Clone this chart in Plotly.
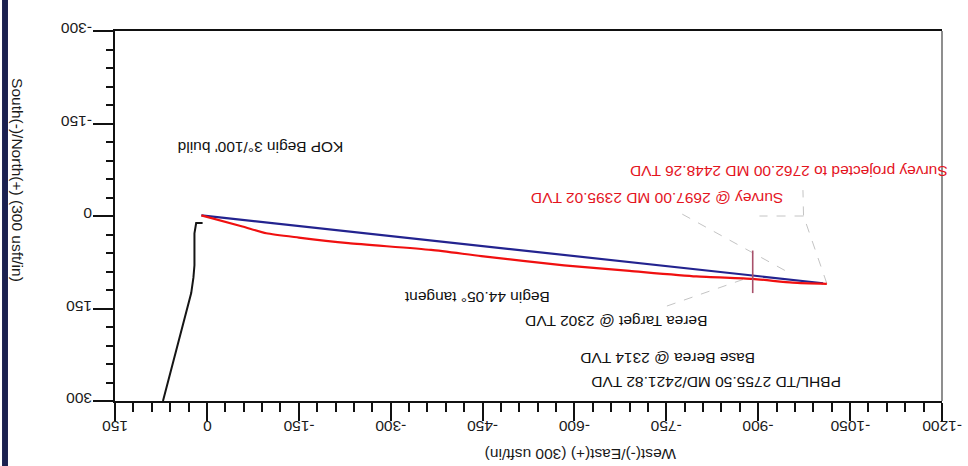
import plotly.graph_objects as go

# ---- data (West(-)/East(+), South(-)/North(+) in usft, as drawn) ----
plan_x = [9, -1006]
plan_y = [-1, 109]

survey_x = [9, -58, -97, -150, -231, -366, -448, -583, -690, -799, -891, -956, -1012]
survey_y = [-1, 17, 28, 35, 44, 55, 65, 80, 89, 98, 102, 108, 110]

offset_x = [7, 17.5, 20.3, 20.3, 22, 25.6, 71.7]
offset_y = [11.4, 11.4, 28, 80, 100, 125, 300]

marker_x = [-891, -891]
marker_y = [56, 125]

leader_a_x = [-1012, -974, -973]
leader_a_y = [109.5, 0, -42]
leader_b_x = [-974, -902]
leader_b_y = [0, 0]
leader_c_x = [-776, -954]
leader_c_y = [-3, 94]
leader_d_x = [-751, -875]
leader_d_y = [146, 103]

x_ticks = [150, 0, -150, -300, -450, -600, -750, -900, -1050, -1200]
x_ticktext = ["150", "0", "-150", "-300", "-450", "-600", "-750", "-900", "-1050", "-1200"]
y_ticks = [-300, -150, 0, 150, 300]
y_ticktext = ["-300", "-150", "0", "150", "300"]

label_texts = [
    "KOP Begin 3°/100' build",
    "Survey projected to 2762.00 MD 2448.26 TVD",
    "Survey @ 2697.00 MD 2395.02 TVD",
    "Begin 44.05° tangent",
    "Berea Target @ 2302 TVD",
    "Base Berea @ 2314 TVD",
    "PBHL/TD 2755.50 MD/2421.82 TVD",
]
label_x = [-87, -950, -735, -440, -669, -752, -831]
label_y = [-110, -71, -28, 131, 172, 231, 269]
label_colors = ["#111111", "#e4141e", "#e4141e", "#111111", "#111111", "#111111", "#111111"]

FONT = "Liberation Sans, Arial, sans-serif"

fig = go.Figure()

for lx, ly in [(leader_a_x, leader_a_y), (leader_b_x, leader_b_y),
               (leader_c_x, leader_c_y), (leader_d_x, leader_d_y)]:
    fig.add_trace(go.Scatter(x=lx, y=ly, mode="lines",
                             line=dict(color="#c4c4c4", width=1, dash="dash"),
                             hoverinfo="skip", showlegend=False))

fig.add_trace(go.Scatter(x=offset_x, y=offset_y, mode="lines",
                         line=dict(color="#151515", width=2), showlegend=False))
fig.add_trace(go.Scatter(x=plan_x, y=plan_y, mode="lines",
                         line=dict(color="#23238f", width=2.2), showlegend=False))
fig.add_trace(go.Scatter(x=survey_x, y=survey_y, mode="lines",
                         line=dict(color="#f01010", width=2.2, shape="spline", smoothing=0.6),
                         showlegend=False))
fig.add_trace(go.Scatter(x=marker_x, y=marker_y, mode="lines",
                         line=dict(color="#a8506a", width=1.6), showlegend=False))

for t, x, y, c in zip(label_texts, label_x, label_y, label_colors):
    fig.add_annotation(x=x, y=y, xref="x", yref="y", text=t, showarrow=False,
                       textangle=180, xanchor="center", yanchor="middle",
                       font=dict(family=FONT, size=15.5, color=c))

TICKFONT = dict(family=FONT, size=15.5, color="#1a1a1a")

# y tick labels (upside down, right-aligned against the ticks)
for v, t in zip(y_ticks, y_ticktext):
    fig.add_annotation(x=-0.026, y=v, xref="paper", yref="y", text=t, showarrow=False,
                       textangle=180, xanchor="right", yanchor="middle", yshift=2,
                       font=TICKFONT)

# x tick labels (upside down, just below the major ticks)
for v, t in zip(x_ticks, x_ticktext):
    fig.add_annotation(x=v, y=-0.041, xref="x", yref="paper", text=t, showarrow=False,
                       textangle=180, xanchor="center", yanchor="top",
                       font=TICKFONT)

# axis titles
fig.add_annotation(x=0.5635, y=-0.146, xref="paper", yref="paper",
                   text="West(-)/East(+) (300 usft/in)", showarrow=False,
                   textangle=180, xanchor="center", yanchor="middle",
                   font=dict(family=FONT, size=15.5, color="#1a1a1a"))
fig.add_annotation(x=-0.1173, y=0.597, xref="paper", yref="paper",
                   text="South(-)/North(+) (300 usft/in)", showarrow=False,
                   textangle=90, xanchor="center", yanchor="middle",
                   font=dict(family=FONT, size=15.5, color="#1a1a1a"))

# left navy bar and right border
fig.add_shape(type="rect", xref="paper", yref="paper",
              x0=-0.1366, x1=-0.1294, y0=-0.18, y1=1.09,
              fillcolor="#1b2150", line=dict(width=0), layer="above")
fig.add_shape(type="line", xref="paper", yref="paper",
              x0=1, x1=1, y0=0, y1=1, line=dict(color="#444444", width=1.2))

fig.update_layout(
    width=968, height=466,
    margin=dict(l=115, r=26, t=31, b=65, autoexpand=False),
    paper_bgcolor="white", plot_bgcolor="white",
    font=dict(family=FONT, size=15.5, color="#1a1a1a"),
    showlegend=False,
)
fig.update_xaxes(
    range=[150, -1200], tickvals=x_ticks, showticklabels=False, automargin=False,
    ticks="outside", ticklen=18, tickwidth=2, tickcolor="#111",
    showline=True, linecolor="#111", linewidth=2, mirror=True,
    showgrid=False, zeroline=False,
    minor=dict(dtick=30, tick0=0, ticks="outside", ticklen=9, tickwidth=1.5, tickcolor="#111", showgrid=False),
)
fig.update_yaxes(
    range=[300, -300], tickvals=y_ticks, showticklabels=False, automargin=False,
    ticks="outside", ticklen=20, tickwidth=2, tickcolor="#111",
    showline=True, linecolor="#111", linewidth=2, mirror=False,
    showgrid=False, zeroline=False,
    minor=dict(dtick=30, tick0=0, ticks="outside", ticklen=7, tickwidth=1.5, tickcolor="#111", showgrid=False),
)

fig.write_html("out.html", config={"displayModeBar": False},
               post_script="document.body.style.margin='0';")
